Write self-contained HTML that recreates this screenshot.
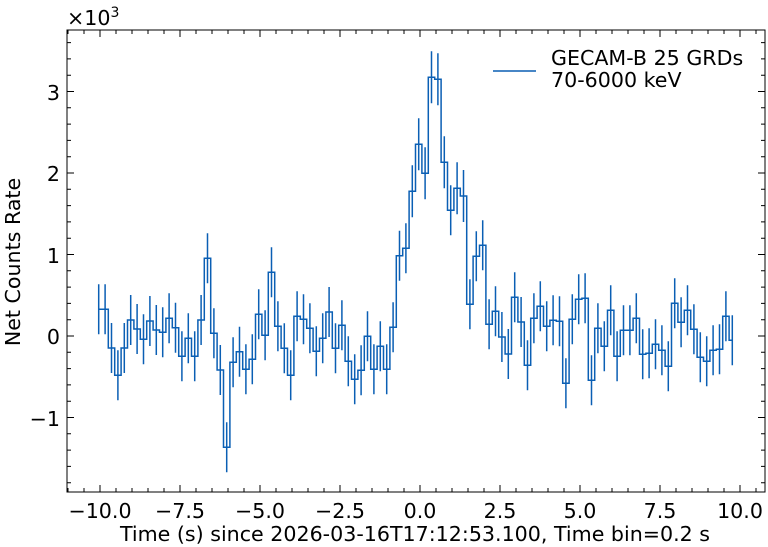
<!DOCTYPE html>
<html><head><meta charset="utf-8"><style>
html,body{margin:0;padding:0;background:#fff;}
svg{display:block;font-family:"DejaVu Sans","Liberation Sans",sans-serif;}
</style></head><body>
<svg id="s" width="768" height="547" viewBox="0 0 768 547" xmlns="http://www.w3.org/2000/svg">
<rect width="768" height="547" fill="#fff"/>
<g id="plot"></g>
<rect x="67" y="30" width="698" height="462" fill="none" stroke="#000" stroke-width="1"/>
<g id="ticks" stroke="#000" stroke-width="1"></g>
<g font-size="20.6" fill="#000">
<text x="100" y="518" text-anchor="middle">−10.0</text>
<text x="180" y="518" text-anchor="middle">−7.5</text>
<text x="260" y="518" text-anchor="middle">−5.0</text>
<text x="340" y="518" text-anchor="middle">−2.5</text>
<text x="420" y="518" text-anchor="middle">0.0</text>
<text x="500" y="518" text-anchor="middle">2.5</text>
<text x="580" y="518" text-anchor="middle">5.0</text>
<text x="660" y="518" text-anchor="middle">7.5</text>
<text x="740" y="518" text-anchor="middle">10.0</text>
<text x="415" y="541" text-anchor="middle">Time (s) since 2026-03-16T17:12:53.100, Time bin=0.2 s</text>
<text x="60" y="100" text-anchor="end">3</text>
<text x="60" y="181" text-anchor="end">2</text>
<text x="60" y="263" text-anchor="end">1</text>
<text x="60" y="344" text-anchor="end">0</text>
<text x="60" y="426" text-anchor="end">−1</text>
<text x="67" y="25">×10<tspan font-size="14" dy="-8">3</tspan></text>
<text transform="translate(20,262) rotate(-90)" text-anchor="middle">Net Counts Rate</text>
<text x="551" y="65">GECAM-B 25 GRDs</text>
<text x="551" y="87">70-6000 keV</text>
</g>
<line x1="493" y1="71" x2="536" y2="71" stroke="#0a5fb4" stroke-width="1.5"/>
</svg>
<script>
var ys=[309.3,309.3,348,375.3,348,320,329,339.3,321,330,332.3,318.3,327.7,356.3,338.3,356.3,320,258.3,333.3,370,447.3,362.3,351.7,369.3,359.3,314.3,335.3,272.3,326.3,348.3,375.3,316.3,319.3,328.3,351.3,338.3,312,348.3,325.3,361.3,379.3,370.3,336.3,369.3,346.3,369.3,327.3,255.7,248.3,191.3,144.3,173.3,77.3,79.3,162.3,210.3,188.3,196,304.3,256.3,245.3,324.3,311.3,337,354,297.3,322,365.3,318.3,306.3,326.3,320.3,321.3,383.3,319.3,299.3,298.3,380.3,328.3,346.3,310.3,356.3,330.3,330.3,318.3,354.3,353.3,344.3,350.3,366.3,303.3,322.3,310.3,329.3,357.3,361.3,350.3,349.3,316.3,340.3];
var NS="http://www.w3.org/2000/svg",g=document.getElementById("plot");
function X(i){return 98.7+6.4*i;}
var d="M"+X(0)+" "+ys[0];
for(var i=0;i<ys.length;i++){
 var xe=(i<ys.length-1)?X(i)+3.2:X(i);
 d+=" H"+xe.toFixed(1);
 if(i<ys.length-1) d+=" V"+ys[i+1];
}
var p=document.createElementNS(NS,"path");p.setAttribute("d",d);p.setAttribute("fill","none");p.setAttribute("stroke","#0a5fb4");p.setAttribute("stroke-width","1.5");g.appendChild(p);
var e="";
for(var i=0;i<ys.length;i++){var h=(ys[i]<200)?26:25;e+="M"+X(i).toFixed(1)+" "+(ys[i]-h)+" V"+(ys[i]+h)+" ";}
var q=document.createElementNS(NS,"path");q.setAttribute("d",e);q.setAttribute("stroke","#0a5fb4");q.setAttribute("stroke-width","1.5");g.appendChild(q);
var t="";
for(var k=-22;k<=22;k++){var v=k*0.5;var x=420+32*v;if(x<67||x>765)continue;var L=(k%5===0)?7:4;t+="M"+x+" 492 v-"+L+" M"+x+" 30 v"+L+" ";}
for(var k=-9;k<=19;k++){var v=k*0.2;var y=336-81.5*v;if(y<30||y>492)continue;var L=(k%5===0)?7:4;t+="M67 "+y+" h"+L+" M765 "+y+" h-"+L+" ";}
var r=document.createElementNS(NS,"path");r.setAttribute("d",t);document.getElementById("ticks").appendChild(r);
</script>
</body></html>
